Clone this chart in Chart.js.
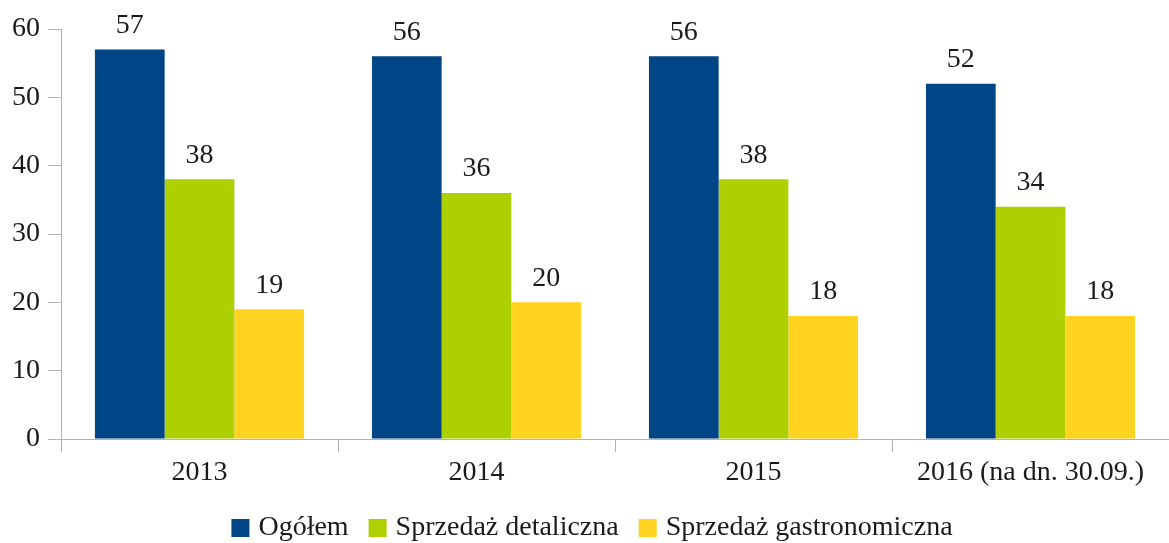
<!DOCTYPE html>
<html><head><meta charset="utf-8">
<script src="https://cdn.jsdelivr.net/npm/chart.js@4/dist/chart.umd.min.js"></script>
<style>html,body{margin:0;padding:0;background:#fff}#w{width:1169px;height:543px}</style>
</head><body><div id="w"><canvas id="c"></canvas></div>
<script>
const categories = ["2013", "2014", "2015", "2016 (na dn. 30.09.)"];
const ogolem = [57, 56, 56, 52];
const detaliczna = [38, 36, 38, 34];
const gastronomiczna = [19, 20, 18, 18];
const seriesNames = ["Ogółem", "Sprzedaż detaliczna", "Sprzedaż gastronomiczna"];
const seriesColors = ["#004586", "#aecf00", "#ffd320"];
const yTicks = [0, 10, 20, 30, 40, 50, 60];

const FONT = "'Liberation Serif', 'Times New Roman', serif";
const TXT = "#1a1a1a";

const labelPlugin = {
  id: 'vals',
  afterDatasetsDraw(chart) {
    const ctx = chart.ctx;
    ctx.save();
    ctx.font = "28px " + FONT;
    ctx.fillStyle = TXT;
    ctx.textAlign = "center";
    ctx.textBaseline = "middle";
    chart.data.datasets.forEach((ds, i) => {
      chart.getDatasetMeta(i).data.forEach((bar, j) => {
        ctx.fillText(String(ds.data[j]), bar.x, bar.y - 24);
      });
    });
    ctx.restore();
  }
};

const legendPlugin = {
  id: 'customLegend',
  afterDraw(chart) {
    const ctx = chart.ctx;
    ctx.save();
    ctx.font = "28px " + FONT;
    ctx.textBaseline = "middle";
    ctx.textAlign = "left";
    const box = 18, gap = 9, itemGap = 20;
    const ds = chart.data.datasets;
    const widths = ds.map(d => box + gap + ctx.measureText(d.label).width);
    const total = widths.reduce((a, b) => a + b, 0) + itemGap * (ds.length - 1);
    let x = 592 - total / 2;
    const cy = 528;
    ds.forEach((d, i) => {
      ctx.fillStyle = d.backgroundColor;
      ctx.fillRect(x, cy - box / 2, box, box);
      ctx.fillStyle = TXT;
      ctx.fillText(d.label, x + box + gap, cy);
      x += widths[i] + itemGap;
    });
    ctx.restore();
  }
};

new Chart(document.getElementById('c'), {
  type: 'bar',
  data: {
    labels: categories,
    datasets: seriesNames.map((n, i) => ({
      label: n,
      data: [ogolem, detaliczna, gastronomiczna][i],
      backgroundColor: seriesColors[i]
    }))
  },
  options: {
    responsive: true, maintainAspectRatio: false, animation: false,
    datasets: { bar: { categoryPercentage: 0.755, barPercentage: 1.0 } },
    layout: { padding: { top: 29, right: -4, left: 0, bottom: 48 } },
    plugins: {
      tooltip: { enabled: false },
      legend: { display: false }
    },
    scales: {
      x: {
        afterFit: (ax) => { ax.height = 56; },
        grid: { display: true, drawOnChartArea: false, offset: true, tickLength: 13, color: '#b3b3b3' },
        border: { color: '#b3b3b3', width: 1 },
        ticks: { font: { family: FONT, size: 28 }, color: TXT, padding: 4, maxRotation: 0, autoSkip: false }
      },
      y: {
        min: 0, max: 60,
        afterBuildTicks: (ax) => { ax.ticks = yTicks.map(v => ({ value: v })); },
        afterFit: (ax) => { ax.width = 61; },
        grid: { display: true, drawOnChartArea: false, tickLength: 13, color: '#b3b3b3' },
        border: { color: '#b3b3b3', width: 1 },
        ticks: { font: { family: FONT, size: 28 }, color: TXT, padding: 8 }
      }
    }
  },
  plugins: [labelPlugin, legendPlugin]
});
</script>
</body></html>
